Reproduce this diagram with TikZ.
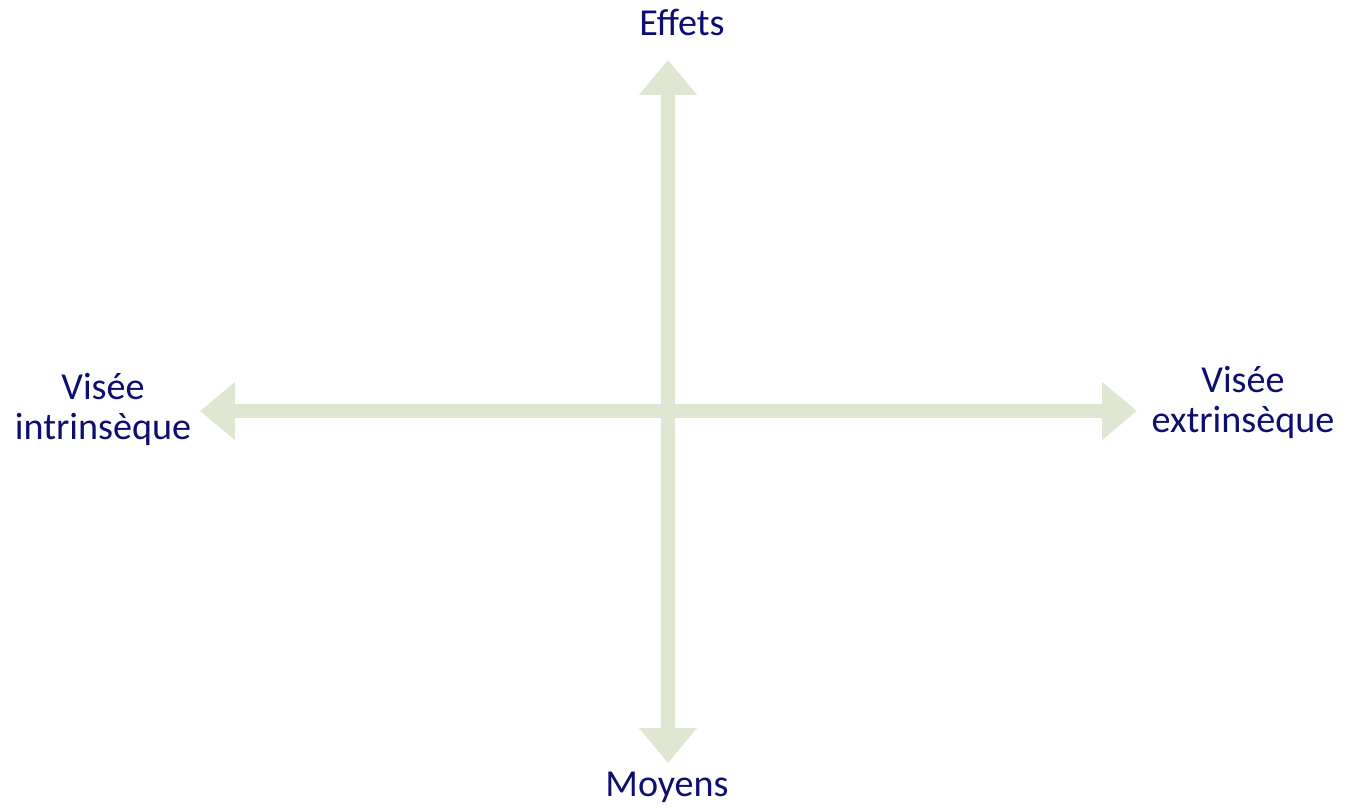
\documentclass[tikz,border=0pt]{standalone}
\usepackage{fontspec}
\setmainfont{Carlito}
\usepackage{xcolor}
\usetikzlibrary{arrows.meta,positioning}

\definecolor{axisgreen}{RGB}{223,231,210}
\definecolor{labelnavy}{RGB}{14,14,112}

\begin{document}
\begin{tikzpicture}[
  x=0.02cm, y=-0.02cm,
  label/.style={text=labelnavy, align=center, inner sep=0pt,
                font=\fontsize{21.7pt}{22.8pt}\selectfont},
  axis/.style={{Triangle[length=0.7cm,width=1.12cm]}-{Triangle[length=0.7cm,width=1.12cm]},
               draw=axisgreen, line width=0.28cm}
]
  \useasboundingbox (0,0) rectangle (1347,808);

  % ends of the two axes
  \coordinate (north) at (668,60);
  \coordinate (south) at (668,763);
  \coordinate (west)  at (200,411);
  \coordinate (east)  at (1137,411);

  \draw[axis] (west)  -- (east);
  \draw[axis] (south) -- (north);

  \node[label, anchor=base] (effets) at (682,35) {Effets};
  \node[label, anchor=base] (moyens) at (667,796) {Moyens};
  \node[label] (intrinseque) at (103,409) {Visée\\intrinsèque};
  \node[label] (extrinseque) at (1243,402) {Visée\\extrinsèque};
\end{tikzpicture}
\end{document}
